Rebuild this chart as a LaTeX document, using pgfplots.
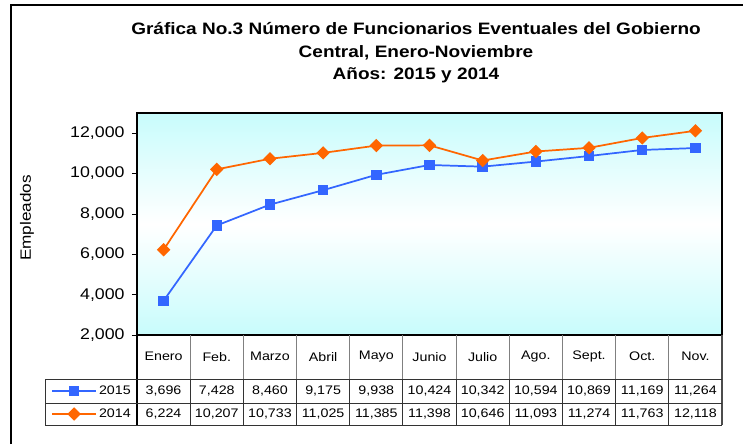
\documentclass[border=0pt]{standalone}
\usepackage{pgfplots}
\pgfplotsset{compat=1.18}
\usepackage{fontspec}
\setmainfont[FakeStretch=1.15]{Liberation Sans}
\definecolor{serA}{HTML}{3366FF}
\definecolor{serB}{HTML}{FF6600}
\definecolor{bgc}{HTML}{C8FCFC}
\begin{document}
\begin{tikzpicture}[x=1pt,y=1pt]
\useasboundingbox (0,0) rectangle (557.25,333);
\draw[line width=0.9pt] (8.25,0) -- (8.25,329.25) -- (557.25,329.25);
\node[font=\fontsize{12.4}{16.9}\selectfont\bfseries, align=center] at (312,293.25)
  {Gráfica No.3 Número de Funcionarios Eventuales del Gobierno\\Central, Enero-Noviembre\\Años: 2015 y 2014};
\node[rotate=90, font=\fontsize{11.2}{12}\selectfont] at (20.25,169.5) {Empleados};
\begin{axis}[
  at={(102.75pt,81.75pt)}, anchor=south west,
  scale only axis, width=438.75pt, height=166.5pt,
  xmin=-0.5, xmax=10.5, ymin=2000, ymax=13000,
  xtick=\empty,
  ytick={2000,4000,6000,8000,10000,12000},
  ytick pos=left, tick align=outside, major tick length=3.75pt,
  ytick style={black, line width=0.6pt},
  scaled y ticks=false,
  /pgf/number format/assume math mode=true,
  yticklabel style={font=\fontsize{11.6}{12}\selectfont, /pgf/number format/1000 sep={,}, xshift=-2pt},
  axis line style={black, line width=1pt},
  axis background/.style={shade, top color=bgc, bottom color=bgc, middle color=white},
  legend style={at={(rel axis cs:-0.1470,-0.3042)}, anchor=west, draw=none, fill=none,
    font=\fontsize{9.3}{10}\selectfont, row sep=8.25pt, inner xsep=0pt, inner ysep=0pt,
    nodes={inner sep=0pt, text height=7pt, text depth=2pt}},
  legend cell align=left,
  legend image code/.code={\draw[mark repeat=2,mark phase=2,#1] plot coordinates {(0pt,0pt) (16.5pt,0pt) (33pt,0pt)}; \path (34.5pt,0pt);},
]
\addplot[serA, line width=1.3pt, mark=square*, mark size=3.3pt, mark options={solid}] coordinates {
(0,3696) (1,7428) (2,8460) (3,9175) (4,9938) (5,10424) (6,10342) (7,10594) (8,10869) (9,11169) (10,11264)};
\addlegendentry{2015}
\addplot[serB, line width=1.3pt, mark=square*, mark size=2.9pt, mark options={solid, rotate=45}] coordinates {
(0,6224) (1,10207) (2,10733) (3,11025) (4,11385) (5,11398) (6,10646) (7,11093) (8,11274) (9,11763) (10,12118)};
\addlegendentry{2014}
\end{axis}
% data table
\def\cw{39.886}
\foreach \i in {1,...,10} {
  \draw[gray, line width=0.7pt] ({102.75+\i*\cw},48.75) -- ({102.75+\i*\cw},81.75);
  \draw[black!80, line width=0.7pt] ({102.75+\i*\cw},14.25) -- ({102.75+\i*\cw},48.75);
}
\draw[black, line width=0.8pt] (102.75,14.25) -- (102.75,81.75);
\draw[black!70, line width=0.8pt] (541.5,14.25) -- (541.5,81.75);
\draw[black!80, line width=0.7pt] (33.75,48.75) -- (541.5,48.75);
\draw[black!80, line width=0.7pt] (33.75,30.75) -- (541.5,30.75);
\draw[black!80, line width=0.7pt] (33.75,14.25) -- (541.5,14.25);
\draw[black!80, line width=0.7pt] (33.75,14.25) -- (33.75,48.75);
\foreach \m [count=\i from 0] in {Enero,Feb.,Marzo,Abril,Mayo,Junio,Julio,Ago.,Sept.,Oct.,Nov.} {
  \node[font=\fontsize{9.3}{10}\selectfont] at ({102.75+(\i+0.5)*\cw},65.5) {\m};
}
\foreach \v [count=\i from 0] in {3{,}696,7{,}428,8{,}460,9{,}175,9{,}938,10{,}424,10{,}342,10{,}594,10{,}869,11{,}169,11{,}264} {
  \node[font=\fontsize{9.3}{10}\selectfont] at ({102.75+(\i+0.5)*\cw},39.75) {\v};
}
\foreach \v [count=\i from 0] in {6{,}224,10{,}207,10{,}733,11{,}025,11{,}385,11{,}398,10{,}646,11{,}093,11{,}274,11{,}763,12{,}118} {
  \node[font=\fontsize{9.3}{10}\selectfont] at ({102.75+(\i+0.5)*\cw},22.5) {\v};
}
\end{tikzpicture}
\end{document}
